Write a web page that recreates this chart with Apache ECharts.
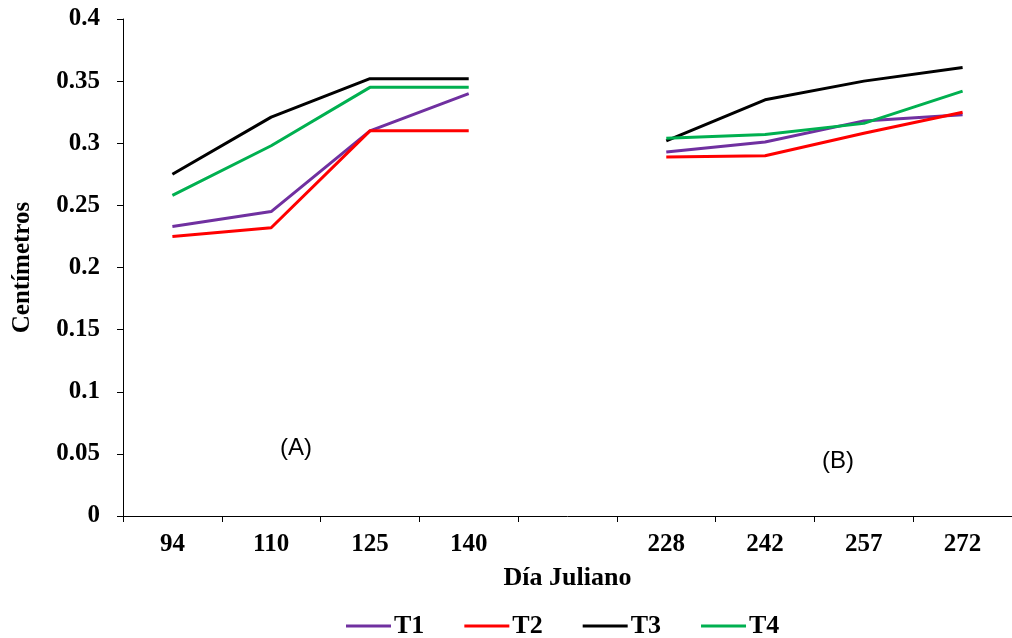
<!DOCTYPE html>
<html>
<head>
<meta charset="utf-8">
<script src="https://cdn.jsdelivr.net/npm/echarts@6/dist/echarts.min.js"></script>
<style>html,body{margin:0;padding:0;background:#fff;}#c{width:1012px;height:638px;}</style>
</head>
<body>
<div id="c"></div>
<script>
const categories = ['94', '110', '125', '140', '', '228', '242', '257', '272'];
const seriesNames = ['T1', 'T2', 'T3', 'T4'];
const t1 = [0.233, 0.245, 0.310, 0.340, null, 0.293, 0.301, 0.318, 0.323];
const t2 = [0.225, 0.232, 0.310, 0.310, null, 0.289, 0.290, 0.308, 0.325];
const t3 = [0.275, 0.321, 0.352, 0.352, null, 0.302, 0.335, 0.350, 0.361];
const t4 = [0.258, 0.298, 0.345, 0.345, null, 0.304, 0.307, 0.316, 0.342];
const colors = ['#7030A0', '#FF0000', '#000000', '#00B050'];
const annotations = ['(A)', '(B)'];

const chart = echarts.init(document.getElementById('c'));
const serif = '"Liberation Serif", "Times New Roman", serif';
const dataAll = [t1, t2, t3, t4];
chart.setOption({
  animation: false,
  backgroundColor: '#fff',
  grid: { left: 123, right: -3, top: 19, bottom: 122 },
  legend: {
    left: 341, top: 608,
    itemWidth: 45, itemHeight: 3, itemGap: 40,
    icon: 'rect',
    textStyle: { fontFamily: serif, fontWeight: 'bold', fontSize: 26, color: '#000', padding: [0,0,0,-2] },
    data: seriesNames
  },
  xAxis: {
    type: 'category', data: categories, boundaryGap: true,
    name: 'Día Juliano', nameLocation: 'middle', nameGap: 49,
    nameTextStyle: { fontFamily: serif, fontWeight: 'bold', fontSize: 26, color: '#000' },
    axisLine: { lineStyle: { color: '#000', width: 1 } },
    axisTick: { show: true, interval: 0, length: 6, lineStyle: { color: '#000' } },
    axisLabel: { interval: 0, margin: 16, fontFamily: serif, fontWeight: 'bold', fontSize: 25, color: '#000' },
    splitLine: { show: false }
  },
  yAxis: {
    type: 'value', min: 0, max: 0.4, interval: 0.05,
    name: 'Centímetros', nameLocation: 'middle', nameGap: 88, nameRotate: 90,
    nameTextStyle: { fontFamily: serif, fontWeight: 'bold', fontSize: 25, color: '#000' },
    axisLine: { show: true, lineStyle: { color: '#000', width: 1 } },
    axisTick: { show: true, length: 6, lineStyle: { color: '#000' } },
    axisLabel: { margin: 23, fontFamily: serif, fontWeight: 'bold', fontSize: 25, color: '#000' },
    splitLine: { show: false }
  },
  graphic: [
    { type: 'text', left: 280, top: 436, style: { text: annotations[0], font: '24px "Liberation Sans", sans-serif', fill: '#000' } },
    { type: 'text', left: 822, top: 449, style: { text: annotations[1], font: '24px "Liberation Sans", sans-serif', fill: '#000' } }
  ],
  series: seriesNames.map((n, i) => ({
    name: n, type: 'line', data: dataAll[i],
    symbol: 'none', connectNulls: false,
    lineStyle: { color: colors[i], width: 3 },
    itemStyle: { color: colors[i] }
  }))
});
</script>
</body>
</html>
